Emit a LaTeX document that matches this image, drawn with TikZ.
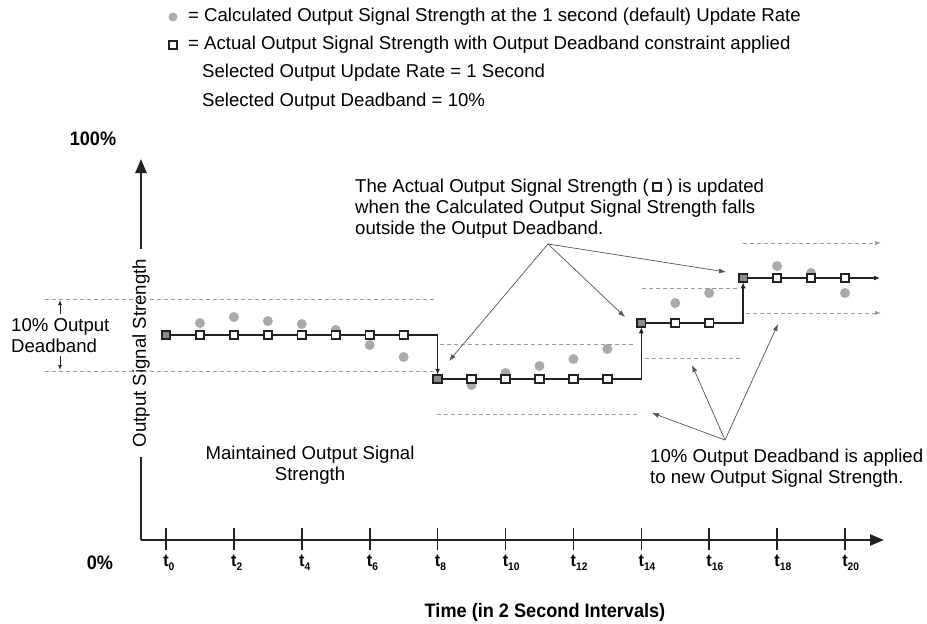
\documentclass[tikz,border=0pt]{standalone}
\usepackage{fontspec}
\setmainfont{Liberation Sans}
\newfontfamily\narrowfont[FakeStretch=0.93]{Liberation Sans}
\usetikzlibrary{arrows.meta}
\pgfdeclarelayer{bg}
\pgfsetlayers{bg,main}
\definecolor{dotgray}{HTML}{AAAAAA}
\definecolor{dashgray}{HTML}{999999}
\definecolor{ink}{HTML}{222222}
\definecolor{notegray}{HTML}{555555}
\begin{document}
\begin{tikzpicture}[x=1pt,y=-1pt,
  font=\fontsize{18.6}{21}\selectfont,
  sq/.style={draw=ink, line width=1.8pt, fill=white, minimum size=8.5pt, inner sep=0pt, outer sep=0pt},
  sqf/.style={sq, fill=black!45},
  dot/.style={circle, fill=dotgray, minimum size=10pt, inner sep=0pt, draw=none},
  band/.style={draw=dashgray, dash pattern=on 4pt off 3pt, line width=0.9pt},
  bandarrow/.style={band, -{Latex[length=6pt,width=4.5pt]}},
  stepline/.style={draw=ink, line width=1.5pt},
  steparrow/.style={stepline, -{Latex[length=6pt,width=5pt]}},
  note/.style={draw=notegray, line width=0.7pt, -{Latex[length=7pt,width=5pt]}},
  axis/.style={draw=ink, line width=2.5pt},
  axisarrow/.style={axis, -{Triangle[length=14pt,width=11pt]}},
  ticktext/.style={inner sep=0pt, font=\narrowfont\bfseries\fontsize{17.5}{17.5}\selectfont},
  txt/.style={inner sep=0pt, anchor=west, align=left},
]
\useasboundingbox (0,0) rectangle (927,624);

% ---------- legend ----------
\node[dot, minimum size=9pt] (legdot) at (173,17) {};
\node[sq, minimum size=8pt] (legsq) at (173,45) {};
\node[txt] (leg1) at (188,17) {= Calculated Output Signal Strength at the 1 second (default) Update Rate};
\node[txt] (leg2) at (188,45) {= Actual Output Signal Strength with Output Deadband constraint applied};
\node[txt] (leg3) at (202,73) {Selected Output Update Rate = 1 Second};
\node[txt] (leg4) at (202,102) {Selected Output Deadband = 10\%};

% ---------- axes ----------
\coordinate (O) at (141,540);
\coordinate (ytip) at (141,159);
\coordinate (xtip) at (884,540);
\node[rotate=90, inner xsep=10pt, inner ysep=0pt] (ylab) at (141,353) {Output Signal Strength};
\draw[axis] (O) -- (ylab.west);
\draw[axisarrow] (ylab.east) -- (ytip);
\draw[axisarrow] (O) -- (xtip);
\node[inner sep=0pt, font=\narrowfont\bfseries\fontsize{19.5}{19.5}\selectfont] (p100) at (93,139) {100\%};
\node[inner sep=0pt, font=\narrowfont\bfseries\fontsize{19.5}{19.5}\selectfont] (p0) at (100,563) {0\%};

\foreach \k in {0,2,...,20}{
  \draw[ink, line width=1.6pt] ({166+33.95*\k},528) -- ({166+33.95*\k},550);
  \node[ticktext] (t\k) at ({166+33.95*\k},563) {t\rlap{\raisebox{-0.4ex}{\fontsize{11}{11}\selectfont\k}}};
}
\node[inner sep=0pt, font=\narrowfont\bfseries\fontsize{19.5}{19.5}\selectfont] (xlab) at (545,612) {Time (in 2 Second Intervals)};

% ---------- deadband lines ----------
\draw[band] (45,299) -- (437,299);
\draw[band] (45,371) -- (437,371);
\draw[band] (440,344) -- (633,344);
\draw[band] (437,414) -- (640,414);
\draw[band] (642,288) -- (737,288);
\draw[band] (645,358) -- (740,358);
\draw[bandarrow] (743,243) -- (881,243);
\draw[bandarrow] (746,313) -- (881,313);

% ---------- left deadband label ----------
\node[txt] (dbl) at (11,336) {10\% Output\\Deadband};
\coordinate (dbu1) at (60,314);
\coordinate (dbu2) at (60,300);
\coordinate (dbd1) at (60,356);
\coordinate (dbd2) at (60,370);
\draw[ink, line width=1pt, -{Latex[length=5pt,width=4pt]}] (dbu1) -- (dbu2);
\draw[ink, line width=1pt, -{Latex[length=5pt,width=4pt]}] (dbd1) -- (dbd2);

% ---------- calculated values (dots) ----------
\begin{pgfonlayer}{bg}
\foreach \k/\y in {1/323,2/317,3/321,4/324,5/330,6/345,7/357,9/385,10/373,11/366,12/359,13/349,15/303,16/293,18/266,19/273,20/293}{
  \node[dot] (d\k) at ({166+33.95*\k},\y) {};
}
\end{pgfonlayer}

% ---------- actual values (squares) ----------
\foreach \k in {1,...,7}{ \node[sq] (s\k) at ({166+33.95*\k},335) {}; }
\node[sqf] (s0) at (166,335) {};
\foreach \k in {9,...,13}{ \node[sq] (s\k) at ({166+33.95*\k},379) {}; }
\node[sqf] (s8) at ({166+33.95*8},379) {};
\foreach \k in {15,16}{ \node[sq] (s\k) at ({166+33.95*\k},323) {}; }
\node[sqf] (s14) at ({166+33.95*14},323) {};
\foreach \k in {18,19,20}{ \node[sq] (s\k) at ({166+33.95*\k},278) {}; }
\node[sqf] (s17) at ({166+33.95*17},278) {};
\coordinate (send) at (880,278);

\begin{pgfonlayer}{bg}
\draw[stepline] (s0.center) -- (s7.center);
\draw[steparrow] (s7.center) -| (s8.north);
\draw[stepline] (s8.center) -- (s13.center);
\draw[steparrow] (s13.center) -| (s14.south);
\draw[stepline] (s14.center) -- (s16.center);
\draw[steparrow] (s16.center) -| (s17.south);
\draw[stepline] (s17.center) -- (s20.center);
\draw[steparrow] (s20.center) -- (send);
\end{pgfonlayer}

% ---------- annotations ----------
\node[txt] (note1) at (355,209) {The Actual Output Signal Strength (\,\tikz[baseline=-0.6ex]\node[draw=ink, line width=1.8pt, minimum size=8pt, inner sep=0pt]{};\ ) is updated\\when the Calculated Output Signal Strength falls\\outside the Output Deadband.};
\coordinate (apex1) at (548,244);
\coordinate (a1) at (449,361);
\coordinate (a2) at (625,317);
\coordinate (a3) at (726,272);
\draw[note] (apex1) -- (a1);
\draw[note] (apex1) -- (a2);
\draw[note] (apex1) -- (a3);

\node[txt] (note2) at (650,468) {10\% Output Deadband is applied\\to new Output Signal Strength.};
\coordinate (apex2) at (725,440);
\coordinate (b1) at (652,413);
\coordinate (b2) at (692,365);
\coordinate (b3) at (778,324);
\draw[note] (apex2) -- (b1);
\draw[note] (apex2) -- (b2);
\draw[note] (apex2) -- (b3);

\node[align=center, inner sep=0pt] (maint) at (310,465) {Maintained Output Signal\\Strength};
\end{tikzpicture}
\end{document}
